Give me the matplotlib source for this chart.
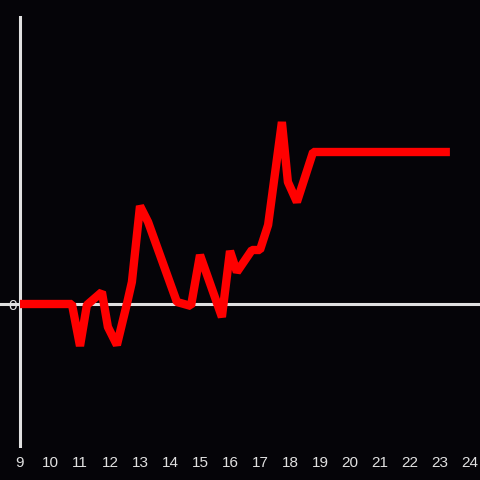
import matplotlib
matplotlib.use("Agg")
import matplotlib.pyplot as plt

# time (hours) and values
hora = [9.0, 10.73, 11.0, 11.23, 11.73, 11.93, 12.23, 12.57, 12.73, 13.0,
        13.27, 14.23, 14.7, 15.0, 15.73, 16.0, 16.23, 16.73, 17.0, 17.27,
        17.73, 17.93, 18.23, 18.77, 23.33]
valor = [0, 0, -10.5, -0.25, 3, -5.75, -10.25, 0.25, 5.5, 24.5,
         20.5, 0.5, -0.5, 12.25, -3.25, 13.25, 8, 13.5, 13.5, 19.75,
         45.5, 30.5, 25.5, 38, 38]

xticks = list(range(9, 25))
fondo = "#050408"
gris = "#e0e0e0"

fig = plt.figure(figsize=(4.8, 4.8), dpi=100, facecolor=fondo)
ax = fig.add_axes([0, 32/480, 1, 432/480], facecolor=fondo)

ax.axhline(0, color=gris, lw=2.2, zorder=1)
ax.axvline(9, color=gris, lw=2.2, zorder=1)
ax.plot(hora, valor, color="#ff0000", lw=6, solid_joinstyle="bevel",
        solid_capstyle="butt", zorder=3)

ax.set_xlim(9 - 20/30, 9 + 460/30)
ax.set_ylim(-36, 72)

for s in ax.spines.values():
    s.set_visible(False)

ax.set_xticks(xticks)
ax.set_xticklabels([str(t) for t in xticks])
ax.set_yticks([0])
ax.set_yticklabels(["0"])
ax.tick_params(length=0, colors=gris, labelsize=11)
ax.tick_params(axis="x", pad=6)
ax.tick_params(axis="y", pad=-12)
for lab in ax.get_xticklabels() + ax.get_yticklabels():
    lab.set_family(["Liberation Sans", "DejaVu Sans"])

fig.savefig("out.png", facecolor=fondo)
